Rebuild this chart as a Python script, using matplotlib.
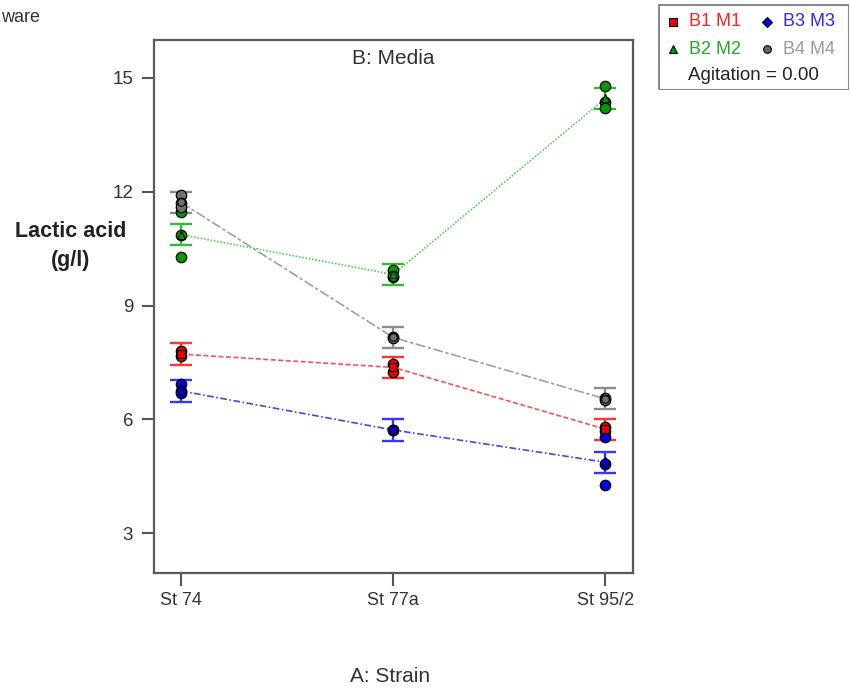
import matplotlib.pyplot as plt
from matplotlib.patches import Rectangle

plt.rcParams['font.family'] = ['Liberation Sans', 'DejaVu Sans']

strains = ['St 74', 'St 77a', 'St 95/2']
groups = ['B1 M1', 'B2 M2', 'B3 M3', 'B4 M4']

# predicted means and 1-SE half widths per media level
mean_m1 = [7.72, 7.37, 5.74]
mean_m2 = [10.87, 9.82, 14.46]
mean_m3 = [6.75, 5.72, 4.87]
mean_m4 = [11.72, 8.16, 6.54]
se = [0.28, 0.28, 0.28]

# observed runs
obs_m1 = [[7.79, 7.68], [7.47, 7.26], [5.80, 5.68]]
obs_m2 = [[11.47, 10.29, 10.85], [9.95, 9.74, 9.78], [14.79, 14.37, 14.21]]
obs_m3 = [[6.92, 6.76, 6.70], [5.71, 5.72], [4.82, 4.26, 5.53]]
obs_m4 = [[11.92, 11.71, 11.60], [8.18, 8.15], [6.55, 6.52]]

means = [mean_m1, mean_m2, mean_m3, mean_m4]
obs = [obs_m1, obs_m2, obs_m3, obs_m4]
line_col = ['#ff5050', '#55cc55', '#4444ff', '#a0a0a0']
bar_col = ['#ff3333', '#33bb33', '#3535ff', '#8c8c8c']
pt_col = ['#ee0000', '#009900', '#0000dd', '#707070']
txt_col = ['#ff2020', '#22aa22', '#2a2aff', '#9a9a9a']
mean_mk = ['s', '^', 'D', 'o']
styles = [(0, (3, 1.5)), (0, (1, 1)), (0, (4, 1.5, 1, 1.5)), (0, (6, 1.5, 2, 1.5))]

fig = plt.figure(figsize=(8.5, 6.91), dpi=100)
ax = fig.add_axes([154 / 850, 1 - 573 / 691, 479 / 850, 533 / 691])

x = list(range(len(strains)))
for i in range(4):
    ax.plot(x, means[i], color=line_col[i], lw=1.2, linestyle=styles[i], zorder=2)
    ax.errorbar(x, means[i], yerr=se, fmt='none', ecolor=bar_col[i],
                elinewidth=1.7, capsize=8, capthick=1.7, zorder=3)
for i in [1, 3, 0, 2]:
    for j in x:
        ax.plot([j] * len(obs[i][j]), obs[i][j], 'o', ms=7.5, mfc=pt_col[i],
                mec='black', mew=0.9, zorder=4)
    ax.plot(x, means[i], mean_mk[i], ms=5.5, mfc=pt_col[i], mec='black',
            mew=0.8, zorder=5)

ax.set_xlim(-0.127, 2.13)
ax.set_ylim(1.95, 16.0)
ax.set_xticks(x)
ax.set_xticklabels(strains)
ax.set_yticks([3, 6, 9, 12, 15])
ax.tick_params(axis='both', direction='out', length=9, width=1.5,
               color='#555555', labelsize=13.5, labelcolor='#333333')
ax.tick_params(axis='y', pad=6)
ax.tick_params(axis='x', pad=5, labelsize=13)
for s in ax.spines.values():
    s.set_color('#5a5a5a')
    s.set_linewidth(1.6)

ax.text(0.5, 0.965, 'B: Media', transform=ax.transAxes, ha='center', va='center',
        fontsize=15, color='#333333')
fig.text(390 / 850, 1 - 676 / 691, 'A: Strain', ha='center', va='center',
         fontsize=15, color='#333333')
fig.text(71 / 850, 1 - 246 / 691, 'Lactic acid\n(g/l)', ha='center', va='center',
         fontsize=15.5, fontweight='bold', linespacing=1.45, color='#222222')
fig.text(1 / 850, 1 - 18 / 691, 'ware', ha='left', va='center', fontsize=13,
         color='#333333')

# key box in the top right corner
lg = fig.add_axes([658 / 850, 1 - 90 / 691, 191 / 850, 86 / 691])
lg.set_xlim(0, 191)
lg.set_ylim(86, 0)
lg.axis('off')
lg.add_patch(Rectangle((0.5, 0.5), 190, 85, fill=False, ec='#8a8a8a', lw=1.5))
pos = [(15, 18), (15, 45), (109, 18), (109, 45)]
for i, (px, py) in enumerate(pos):
    lg.plot([px], [py], mean_mk[i], ms=5.5, mfc=pt_col[i] if i != 3 else '#666666',
            mec='black', mew=0.8)
    lg.text(px + 16, py, groups[i], ha='left', va='center', fontsize=13,
            color=txt_col[i])
lg.text(95, 71, 'Agitation = 0.00', ha='center', va='center', fontsize=13.5,
        color='#222222')

fig.savefig('out.png', dpi=100)
